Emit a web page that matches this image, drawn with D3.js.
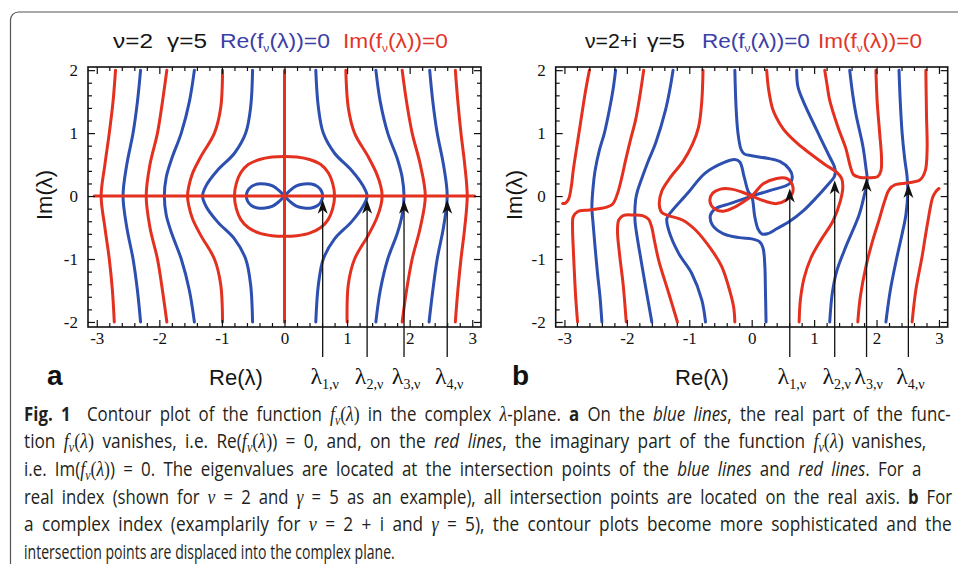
<!DOCTYPE html>
<html><head><meta charset="utf-8">
<script src="https://cdn.jsdelivr.net/npm/d3@7"></script>
<style>body{margin:0;background:#fff}svg{display:block}</style>
</head><body>
<svg id="c" width="958" height="564"></svg>
<script>
// ---------- tick labels ----------
const xTicks = [-3,-2,-1,0,1,2,3];
const yTicks = [-2,-1,0,1,2];
const xMinor = d3.range(-30,31,2).map(v=>v/10).filter(v=>!Number.isInteger(v));
const yMinor = d3.range(-20,21,2).map(v=>v/10).filter(v=>!Number.isInteger(v));

// ---------- panel a (nu=2, gamma=5) contour lines, [Re(lambda), Im(lambda)] ----------
const aRed1 = [[-2.70,2],[-2.74,1.5],[-2.80,1],[-2.87,0.5],[-2.93,0],[-2.87,-0.5],[-2.80,-1],[-2.75,-1.5],[-2.72,-2]];
const aBlue1 = [[-2.30,2],[-2.35,1.5],[-2.42,1],[-2.52,0.5],[-2.58,0],[-2.52,-0.5],[-2.42,-1],[-2.35,-1.5],[-2.30,-2]];
const aRed2 = [[-1.88,2],[-1.95,1.5],[-2.03,1],[-2.15,0.5],[-2.21,0],[-2.15,-0.5],[-2.03,-1],[-1.95,-1.5],[-1.88,-2]];
const aBlue2 = [[-1.44,2],[-1.52,1.5],[-1.65,1],[-1.80,0.6],[-1.89,0.3],[-1.92,0],[-1.89,-0.3],[-1.80,-0.6],[-1.65,-1],[-1.52,-1.5],[-1.44,-2]];
const aRed3 = [[-0.99,2],[-1.02,1.4],[-1.12,1],[-1.34,0.62],[-1.47,0.36],[-1.53,0.15],[-1.55,0],[-1.53,-0.15],[-1.47,-0.36],[-1.34,-0.62],[-1.12,-1],[-1.02,-1.4],[-0.99,-2]];
const aBlue3 = [[-0.51,2],[-0.54,1.42],[-0.62,1],[-0.80,0.68],[-1.07,0.41],[-1.25,0.17],[-1.31,0],[-1.25,-0.17],[-1.07,-0.41],[-0.80,-0.68],[-0.62,-1],[-0.54,-1.42],[-0.51,-2]];
const aBlue4 = [[0.50,2],[0.54,1.42],[0.62,1],[0.80,0.68],[1.07,0.41],[1.25,0.17],[1.32,0],[1.25,-0.17],[1.07,-0.41],[0.80,-0.68],[0.62,-1],[0.54,-1.42],[0.50,-2]];
const aRed4 = [[0.98,2],[1.02,1.4],[1.12,1],[1.34,0.62],[1.47,0.36],[1.54,0.15],[1.56,0],[1.54,-0.15],[1.47,-0.36],[1.34,-0.62],[1.12,-1],[1.02,-1.4],[1.0,-2]];
const aBlue5 = [[1.46,2],[1.53,1.5],[1.65,1],[1.80,0.6],[1.88,0.3],[1.91,0],[1.88,-0.3],[1.80,-0.6],[1.65,-1],[1.53,-1.5],[1.46,-2]];
const aRed5 = [[1.88,2],[1.95,1.5],[2.04,1],[2.17,0.5],[2.25,0],[2.17,-0.5],[2.04,-1],[1.95,-1.5],[1.88,-2]];
const aBlue6 = [[2.32,2],[2.37,1.5],[2.44,1],[2.54,0.5],[2.60,0],[2.54,-0.5],[2.44,-1],[2.37,-1.5],[2.31,-2]];
const aRed6 = [[2.73,2],[2.77,1.5],[2.82,1],[2.88,0.5],[2.92,0],[2.88,-0.5],[2.82,-1],[2.77,-1.5],[2.73,-2]];
const aRedV = [[0,2],[0,-2]];
const aRedH = [[-3.04,0],[3.04,0]];
const aRedLoop = [[0.80,0],[0.77,0.2],[0.70,0.37],[0.58,0.5],[0.40,0.58],[0.2,0.62],[0,0.63],[-0.2,0.62],[-0.40,0.58],[-0.58,0.5],[-0.70,0.37],[-0.77,0.2],[-0.80,0],[-0.77,-0.2],[-0.70,-0.37],[-0.58,-0.5],[-0.40,-0.59],[-0.2,-0.63],[0,-0.64],[0.2,-0.63],[0.40,-0.59],[0.58,-0.5],[0.70,-0.37],[0.77,-0.2]];
const aBlueEight = [[0,0],[0.09,0.09],[0.19,0.16],[0.31,0.19],[0.43,0.19],[0.53,0.15],[0.59,0.08],[0.61,0],[0.59,-0.08],[0.53,-0.15],[0.43,-0.19],[0.31,-0.19],[0.19,-0.16],[0.09,-0.09],[0,0],[-0.09,0.09],[-0.19,0.16],[-0.31,0.19],[-0.43,0.19],[-0.53,0.15],[-0.59,0.08],[-0.61,0],[-0.59,-0.08],[-0.53,-0.15],[-0.43,-0.19],[-0.31,-0.19],[-0.19,-0.16],[-0.09,-0.09]];
const aArrowTips = [[0.61,-0.06],[1.32,-0.06],[1.91,-0.06],[2.60,-0.06]];

// ---------- panel b (nu=2+i, gamma=5) contour lines ----------
const bRed1 = [[-2.60,2],[-2.66,1.68],[-2.71,1.37],[-2.76,1.05],[-2.81,0.73],[-2.86,0.40],[-2.89,0.15],[-2.93,-0.04],[-2.98,-0.11],[-3.03,-0.12]];
const bBlue1 = [[-2.18,2],[-2.22,1.7],[-2.28,1.37],[-2.36,1.0],[-2.44,0.73],[-2.51,0.4],[-2.54,0.15],[-2.56,-0.17],[-2.54,-0.45],[-2.51,-0.8],[-2.47,-1.23],[-2.43,-1.6],[-2.40,-2]];
const bRed2 = [[-2.79,-2],[-2.82,-1.6],[-2.84,-1.23],[-2.86,-0.8],[-2.87,-0.49],[-2.86,-0.33],[-2.79,-0.25],[-2.60,-0.22],[-2.34,-0.18],[-2.23,-0.13],[-2.15,0.04],[-2.08,0.3],[-2.02,0.57],[-1.94,0.9],[-1.86,1.21],[-1.79,1.6],[-1.73,2]];
const bBlue2 = [[-1.26,2],[-1.31,1.7],[-1.38,1.37],[-1.54,0.84],[-1.66,0.55],[-1.75,0.31],[-1.83,0.08],[-1.86,-0.06],[-1.87,-0.38],[-1.84,-0.62],[-1.80,-0.86],[-1.70,-1.44],[-1.60,-2]];
const bRed3 = [[-2.01,-2],[-2.06,-1.4],[-2.12,-0.9],[-2.15,-0.55],[-2.13,-0.38],[-2.06,-0.31],[-1.90,-0.30],[-1.75,-0.31],[-1.65,-0.37],[-1.60,-0.5],[-1.56,-0.7],[-1.49,-1.02],[-1.33,-1.54],[-1.19,-2]];
const bRed4 = [[-0.78,2],[-0.80,1.5],[-0.85,1.1],[-0.95,0.82],[-1.10,0.55],[-1.30,0.3],[-1.44,0.08],[-1.48,-0.14],[-1.44,-0.26],[-1.33,-0.31],[-1.11,-0.38],[-0.90,-0.54],[-0.64,-0.86],[-0.48,-1.12],[-0.37,-1.44],[-0.29,-1.76],[-0.27,-2]];
const bBlue3 = [[-0.74,-2],[-0.80,-1.65],[-0.96,-1.23],[-1.17,-0.91],[-1.33,-0.54],[-1.36,-0.36],[-1.29,-0.25],[-1.03,0.04],[-0.75,0.36],[-0.45,0.53],[-0.27,0.58],[-0.19,0.54],[-0.12,0.3],[-0.05,0.06],[0,0],[0.05,-0.33],[0.10,-0.52],[0.16,-0.60],[0.25,-0.60],[0.40,-0.52],[0.61,-0.40],[0.82,-0.24],[1.04,-0.02],[1.22,0.18],[1.32,0.3],[1.34,0.38],[1.32,0.48],[1.25,0.62],[1.04,1.05],[0.82,1.52],[0.74,1.74],[0.72,2]];
const bBlueA = [[-0.27,2],[-0.25,1.4],[-0.22,1.0],[-0.17,0.74],[-0.12,0.67],[0,0.64],[0.25,0.6],[0.45,0.55],[0.60,0.43],[0.65,0.31],[0.61,0.2],[0.3,0.09],[0,0],[-0.35,-0.12],[-0.58,-0.2],[-0.66,-0.3],[-0.63,-0.46],[-0.45,-0.6],[-0.2,-0.66],[0.0,-0.68],[0.12,-0.72],[0.18,-0.82],[0.21,-1.1],[0.22,-1.5],[0.23,-2]];
const bRedEight = [[0,0],[0.19,0.2],[0.40,0.28],[0.56,0.28],[0.65,0.18],[0.65,0.04],[0.56,-0.06],[0.40,-0.12],[0.24,-0.09],[0.10,-0.04],[0,0],[-0.15,0.06],[-0.32,0.11],[-0.50,0.11],[-0.63,0.04],[-0.67,-0.08],[-0.60,-0.2],[-0.45,-0.24],[-0.28,-0.18],[-0.13,-0.09]];
const bRedA = [[0.24,2],[0.27,1.7],[0.34,1.37],[0.45,1.15],[0.56,1.0],[0.75,0.82],[0.93,0.68],[1.19,0.49],[1.36,0.38],[1.44,0.28],[1.46,0.15],[1.42,-0.08],[1.30,-0.40],[1.12,-0.68],[0.95,-0.98],[0.84,-1.3],[0.78,-1.65],[0.76,-2]];
const bRedB = [[1.17,2],[1.21,1.75],[1.25,1.52],[1.38,1.1],[1.51,0.75],[1.58,0.47],[1.63,0.34],[1.72,0.30],[1.88,0.29],[2.02,0.31],[2.07,0.4],[2.08,0.6],[2.05,1.0],[2.01,1.5],[1.99,2]];
const bRedC = [[1.70,-2],[1.74,-1.6],[1.83,-1.12],[1.94,-0.7],[2.04,-0.38],[2.13,-0.08],[2.20,0.1],[2.30,0.18],[2.52,0.21],[2.70,0.26],[2.78,0.4],[2.81,0.73],[2.80,1.3],[2.79,2]];
const bRedD = [[3.0,0.12],[2.95,0.07],[2.90,-0.02],[2.87,-0.14],[2.84,-0.3],[2.78,-0.65],[2.73,-0.96],[2.63,-1.49],[2.57,-2]];
const bBlueR1 = [[1.57,2],[1.62,1.6],[1.67,1.3],[1.78,0.8],[1.83,0.45],[1.85,0.25],[1.80,0.0],[1.72,-0.3],[1.51,-0.8],[1.36,-1.2],[1.29,-1.55],[1.25,-2]];
const bBlueR2 = [[2.36,2],[2.38,1.5],[2.41,1.0],[2.45,0.6],[2.49,0.3],[2.50,0.05],[2.47,-0.3],[2.41,-0.6],[2.32,-1.0],[2.22,-1.5],[2.15,-2]];
const bArrowTips = [[0.61,0.12],[1.33,0.25],[1.84,0.29],[2.51,0.19]];

const eigIndex = ["1","2","3","4"];
const titleA = ["ν=2","γ=5","Re(f","ν","(λ))=0","Im(f","ν","(λ))=0"];
const titleB = ["ν=2+i","γ=5","Re(f","ν","(λ))=0","Im(f","ν","(λ))=0"];

// caption: [text, style]  n=normal b=bold i=italic m=math italic s=math subscript r=math upright
const F = [["f","m"],["ν","s"],["(","r"],["λ","m"],[")","r"]];
const captionLines = [
  [["Fig. 1","b"],["  Contour plot of the function ","n"],...F,[" in the complex ","n"],["λ","m"],["-plane. ","n"],["a","b"],[" On the ","n"],["blue lines","i"],[", the real part of the func-","n"]],
  [["tion ","n"],...F,[" vanishes, i.e. Re(","n"],...F,[") = 0, and, on the ","n"],["red lines","i"],[", the imaginary part of the function ","n"],...F,[" vanishes,","n"]],
  [["i.e. Im(","n"],...F,[") = 0. The eigenvalues are located at the intersection points of the ","n"],["blue lines","i"],[" and ","n"],["red lines","i"],[". For a","n"]],
  [["real index (shown for ","n"],["ν","m"],[" = 2 and ","n"],["γ","m"],[" = 5 as an example), all intersection points are located on the real axis. ","n"],["b","b"],[" For","n"]],
  [["a complex index (examplarily for ","n"],["ν","m"],[" = 2 + i and ","n"],["γ","m"],[" = 5), the contour plots become more sophisticated and the","n"]],
  [["intersection points are displaced into the complex plane.","n"]]
];

// ---------- drawing ----------
const svg = d3.select('#c');
const BLUE = '#2d4fb0', RED = '#e3301f', TBLUE = '#3b3ea6', TRED = '#e2362a';
const SERIF = "'Liberation Serif','Times New Roman',serif";
const SANS = "'Liberation Sans',Arial,sans-serif";
const TOP = 67, BOTTOM = 327;

svg.append('path').attr('d','M10.5,580 V20 A8,8 0 0 1 18.5,12 H975')
  .attr('fill','none').attr('stroke','#555').attr('stroke-width',1.2);

function panel(id, x0, x1, blues, reds, closedBlue, closedRed, tips, title, titleBoxes, letter, letterX, reX, imX) {
  const x = d3.scaleLinear().domain([-3.14,3.14]).range([x0,x1]);
  const y = d3.scaleLinear().domain([-2.08,2.05]).range([BOTTOM,TOP]);
  const g = svg.append('g');
  g.append('clipPath').attr('id','clip'+id).append('rect')
    .attr('x',x0).attr('y',TOP).attr('width',x1-x0).attr('height',BOTTOM-TOP);
  const cg = g.append('g').attr('clip-path',`url(#clip${id})`);
  const ln = d3.line().x(d=>x(d[0])).y(d=>y(d[1])).curve(d3.curveCatmullRom.alpha(0.5));
  const lnC = d3.line().x(d=>x(d[0])).y(d=>y(d[1])).curve(d3.curveCatmullRomClosed.alpha(0.5));
  const style = (p,c)=>p.attr('fill','none').attr('stroke',c).attr('stroke-width',3).attr('stroke-linecap','round').attr('stroke-linejoin','round');
  blues.forEach(d=>style(cg.append('path').attr('d',ln(d)),BLUE));
  closedBlue.forEach(d=>style(cg.append('path').attr('d',lnC(d)),BLUE));
  reds.forEach(d=>style(cg.append('path').attr('d',ln(d)),RED));
  closedRed.forEach(d=>style(cg.append('path').attr('d',lnC(d)),RED));

  const fmt = d => d < 0 ? '-' + Math.abs(d) : String(d);
  const ax = g.append('g');
  ax.append('g').attr('transform',`translate(0,${BOTTOM})`).call(d3.axisBottom(x).tickValues(xTicks).tickSize(-7).tickSizeOuter(0).tickPadding(5).tickFormat(fmt));
  ax.append('g').attr('transform',`translate(0,${BOTTOM})`).call(d3.axisBottom(x).tickValues(xMinor).tickSize(-4).tickSizeOuter(0).tickFormat(''));
  ax.append('g').attr('transform',`translate(0,${TOP})`).call(d3.axisTop(x).tickValues(xTicks).tickSize(-7).tickSizeOuter(0).tickFormat(''));
  ax.append('g').attr('transform',`translate(0,${TOP})`).call(d3.axisTop(x).tickValues(xMinor).tickSize(-4).tickSizeOuter(0).tickFormat(''));
  ax.append('g').attr('transform',`translate(${x0},0)`).call(d3.axisLeft(y).tickValues(yTicks).tickSize(-7).tickSizeOuter(0).tickPadding(10).tickFormat(fmt));
  ax.append('g').attr('transform',`translate(${x0},0)`).call(d3.axisLeft(y).tickValues(yMinor).tickSize(-4).tickSizeOuter(0).tickFormat(''));
  ax.append('g').attr('transform',`translate(${x1},0)`).call(d3.axisRight(y).tickValues(yTicks).tickSize(-7).tickSizeOuter(0).tickFormat(''));
  ax.append('g').attr('transform',`translate(${x1},0)`).call(d3.axisRight(y).tickValues(yMinor).tickSize(-4).tickSizeOuter(0).tickFormat(''));
  ax.selectAll('.domain').remove();
  ax.selectAll('g').attr('font-family',null).attr('font-size',null);
  ax.selectAll('.tick line').attr('stroke','#111').attr('stroke-width',1.2);
  ax.selectAll('.tick text').attr('font-family',SERIF).attr('font-size',17).attr('fill','#111');
  g.append('rect').attr('x',x0).attr('y',TOP).attr('width',x1-x0).attr('height',BOTTOM-TOP)
    .attr('fill','none').attr('stroke','#111').attr('stroke-width',1.6);

  tips.forEach((t,i)=>{
    const px = x(t[0]), py = y(t[1]);
    g.append('line').attr('x1',px).attr('x2',px).attr('y1',357).attr('y2',py+8)
      .attr('stroke','#111').attr('stroke-width',1.3);
    g.append('path').attr('d',`M${px},${py} L${px-5},${py+14} L${px},${py+10} L${px+5},${py+14} Z`).attr('fill','#111');
    const tx = g.append('text').attr('x',px+2).attr('y',384).attr('text-anchor','middle')
      .attr('font-family',SERIF).attr('font-size',24).attr('fill','#111');
    tx.append('tspan').text('λ');
    tx.append('tspan').attr('font-size',14).attr('dy',5).text(eigIndex[i]+',ν');
  });

  const segs = [[title[0]],[title[1]],[title[2],title[3],title[4]],[title[5],title[6],title[7]]];
  const cols = ['#151515','#151515',TBLUE,TRED];
  segs.forEach((s,i)=>{
    const t = svg.append('text').attr('font-family',SANS).attr('font-size',21).attr('fill',cols[i]);
    if (s.length===1) t.append('tspan').text(s[0]);
    else { t.append('tspan').text(s[0]); t.append('tspan').attr('font-size',11).attr('dy',4).text(s[1]); t.append('tspan').attr('dy',-4).text(s[2]); }
    const w = t.node().getComputedTextLength();
    const [a,b] = titleBoxes[i];
    t.attr('transform',`translate(${a},47.5) scale(${(b-a)/w},1)`);
  });

  svg.append('text').attr('x',reX).attr('y',385).attr('text-anchor','middle').attr('font-family',SANS).attr('font-size',22).attr('fill','#151515').text('Re(λ)');
  svg.append('text').attr('transform',`translate(${imX},195) rotate(-90)`).attr('text-anchor','middle').attr('font-family',SANS).attr('font-size',22).attr('fill','#151515').text('Im(λ)');
  svg.append('text').attr('x',letterX).attr('y',385).attr('font-family',SANS).attr('font-weight','bold').attr('font-size',28).attr('fill','#111').text(letter);
}

panel('a', 88, 481,
  [aBlue1,aBlue2,aBlue3,aBlue4,aBlue5,aBlue6],
  [aRed1,aRed2,aRed3,aRed4,aRed5,aRed6,aRedV,aRedH],
  [aBlueEight],[aRedLoop], aArrowTips, titleA,
  [[113,153],[167,207],[220,330],[343,448]], 'a', 47, 236, 52);
panel('b', 555.7, 947.7,
  [bBlue1,bBlue2,bBlue3,bBlueA,bBlueR1,bBlueR2],
  [bRed1,bRed2,bRed3,bRed4,bRedA,bRedB,bRedC,bRedD],
  [],[bRedEight], bArrowTips, titleB,
  [[585,637],[647,685],[702,810],[818,922]], 'b', 512, 702, 522);

// caption: justified lines (widened word spacing, condensed glyphs)
const capEnds = [951,927,922,953,952,395];
const capBase = [420.5,448,476,503.5,531,559];
const last = captionLines.length-1;
captionLines.forEach((segs,i)=>{
  const t = svg.append('text').attr('xml:space','preserve').attr('font-family',"'Open Sans','Noto Sans',sans-serif")
    .attr('font-size',20).attr('fill','#231f20');
  if (i < last) t.attr('word-spacing',4.5);
  let shift = 0;
  segs.forEach(([s,st])=>{
    const ts = t.append('tspan').text(s);
    if (st==='b') ts.attr('font-weight','bold');
    if (st==='i') ts.attr('font-style','italic');
    if (st==='m'||st==='r'||st==='s') ts.attr('font-family',SERIF).attr('font-size',st==='s'?14:21);
    if (st==='m'||st==='s') ts.attr('font-style','italic');
    if (st==='s') { ts.attr('dy',4); shift = 4; }
    else if (shift) { ts.attr('dy',-shift); shift = 0; }
  });
  const w = t.node().getComputedTextLength();
  t.attr('transform',`translate(24,${capBase[i]}) scale(${(capEnds[i]-24)/w},1)`);
});
</script>
</body></html>
